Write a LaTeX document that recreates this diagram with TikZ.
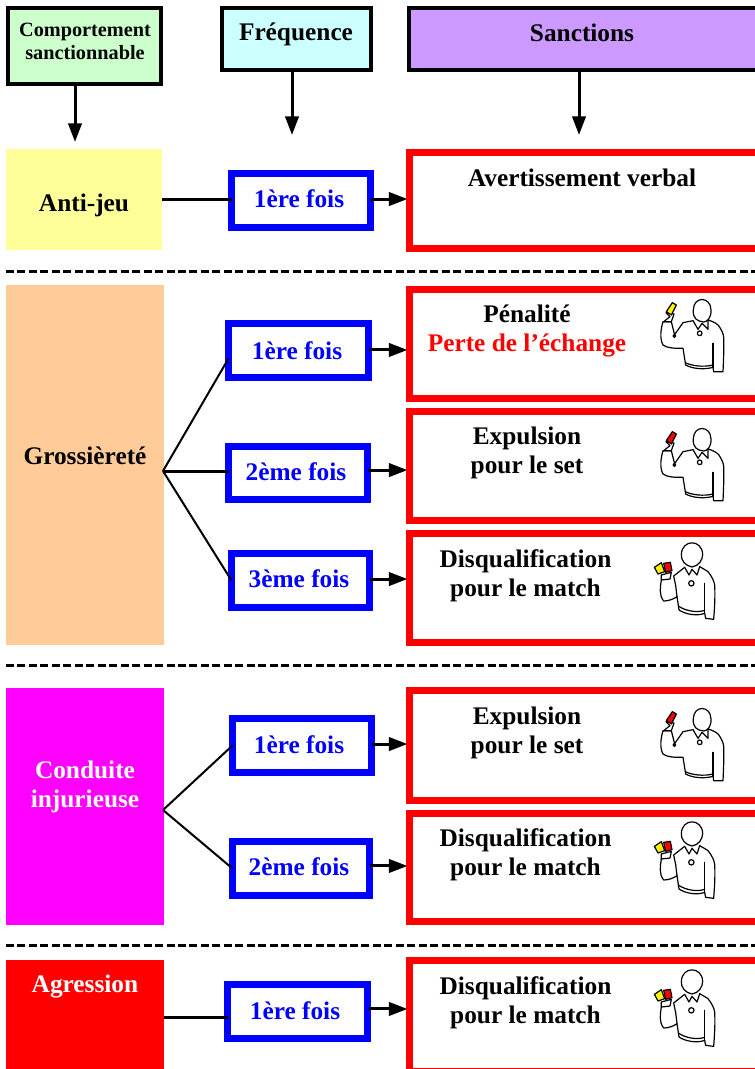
\documentclass[tikz,border=0pt]{standalone}
\usepackage{fontspec}
\setmainfont{Liberation Serif}
\usetikzlibrary{arrows.meta}
\definecolor{cGreen}{HTML}{CCFFCC}
\definecolor{cCyan}{HTML}{CCFFFF}
\definecolor{cPurple}{HTML}{CC99FF}
\definecolor{cYellow}{HTML}{FFFF99}
\definecolor{cOrange}{HTML}{FFCC99}
\definecolor{cMagenta}{HTML}{FF00FF}
\definecolor{cRed}{HTML}{FF0000}
\definecolor{cBlue}{HTML}{0000FF}
\tikzset{
  base/.style={inner sep=0pt,outer sep=0pt,rectangle},
  big/.style={font=\fontsize{19}{21.75}\selectfont\bfseries,align=center,inner sep=0pt},
  small/.style={font=\fontsize{15.2}{17.25}\selectfont\bfseries,align=center,inner sep=0pt},
  headbox/.style={base,draw=black,line width=3pt},
  catbox/.style={base},
  freqbox/.style={base,draw=cBlue,fill=white,line width=5.25pt},
  freqtext/.style={big,text=cBlue},
  sancbox/.style={base},
  sancline/.style={draw=cRed,line width=5.25pt,line join=miter},
  topline/.style={draw=black,line width=3pt,line join=miter},
  conn/.style={draw=black,line width=2.25pt},
  diag/.style={draw=black,line width=1.5pt},
  arr/.style={conn,-{Triangle[length=14pt,width=10pt]}},
  sep/.style={draw=black,line width=2.25pt,dash pattern=on 6pt off 2.6pt},
  ink/.style={draw=black,line width=0.9pt,line cap=round,line join=round,fill=none},
  pics/refA/.style={code={
    \begin{scope}[x=0.25pt,y=-0.25pt]
      \draw[ink] (-26,0) .. controls (-26,-42) and (26,-42) .. (27,0) .. controls (28,25) and (15,35) .. (5,36) .. controls (-15,34) and (-28,25) .. (-26,0);
      \draw[ink] (-27,32) -- (-12,58) -- (0,40) -- (18,58) -- (18,30);
      \draw[ink] (-27,32) -- (-57,38) -- (-85,78);
      \draw[ink] (18,30) .. controls (35,35) and (50,42) .. (55,55) .. controls (64,70) and (66,80) .. (65,90) .. controls (66,130) and (64,160) .. (63,185) -- (35,185) -- (33,172);
      \draw[ink] (33,100) -- (33,172);
      \draw[ink] (-92,35) -- (-117,35) .. controls (-123,55) and (-128,85) .. (-117,105) .. controls (-105,115) and (-80,115) .. (-57,115) -- (-49,165) .. controls (-30,176) and (5,180) .. (33,172);
      \draw[ink] (-50,158) .. controls (-30,168) and (5,172) .. (33,165);
      \draw[ink] (-92,35) -- (-82,75);
      \draw[ink] (-83,78) circle (4);
      \draw[ink] (-7,70) circle (7);
      \draw[ink] (-108,8) -- (-96,20) -- (-115,35) -- (-92,35) -- (-84,12) -- cycle;
      \filldraw[ink,fill=\cardA] (-107,5) -- (-89,-22) -- (-77,-15) -- (-92,15) -- cycle;
    \end{scope}}},
  pics/refB/.style={code={
    \begin{scope}[x=0.25pt,y=-0.25pt]
      \draw[ink] (-32,-2) .. controls (-30,-48) and (30,-48) .. (32,-2) .. controls (32,15) and (20,33) .. (0,36) .. controls (-20,33) and (-34,15) .. (-32,-2);
      \draw[ink] (-22,37) -- (-9,60) -- (0,43) -- (15,60) -- (23,35);
      \draw[ink] (-22,37) -- (-55,63) -- (-49,92);
      \draw[ink] (23,35) .. controls (35,42) and (44,47) .. (48,50) .. controls (60,65) and (66,78) .. (68,90) .. controls (70,130) and (67,165) .. (65,193) -- (41,190) -- (38,175);
      \draw[ink] (38,85) -- (38,175);
      \draw[ink] (-92,60) -- (-92,75) .. controls (-95,95) and (-100,120) .. (-85,138) .. controls (-70,138) and (-55,132) .. (-45,125) -- (-39,165) .. controls (-20,178) and (15,184) .. (38,175);
      \draw[ink] (-41,153) .. controls (-20,168) and (15,174) .. (38,166);
      \draw[ink] (-49,92) -- (-45,125);
      \draw[ink] (-92,60) -- (-62,52) -- (-66,72) -- (-92,75);
      \draw[ink] (-2,85) circle (8);
      \filldraw[ink,fill=cRed] (-85,25) -- (-65,22) -- (-60,47) -- (-79,52) -- cycle;
      \filldraw[ink,fill=yellow] (-113,37) -- (-92,23) -- (-82,50) -- (-102,57) -- cycle;
    \end{scope}}},
}
\newcommand{\cardA}{yellow}
% freq box: name, outer left, outer top, outer right, outer bottom
\newcommand{\fq}[5]{\node[freqbox,minimum width={(#4-#2-7)*0.75pt},minimum height={(#5-#3-7)*0.75pt}] (#1) at ({(#2+#4)/2},{(#3+#5)/2}) {};}
% sanction box: name, outer top, outer bottom
\newcommand{\sanc}[3]{\node[sancbox,minimum width={345.5*0.75pt},minimum height={(#3-#2-7)*0.75pt}] (#1) at (582.25,{(#2+#3)/2}) {};}
\newcommand{\sancdraw}[1]{\draw[sancline] (#1.north east) -- (#1.north west) -- (#1.south west) -- (#1.south east);}
\begin{document}
\begin{tikzpicture}[x=0.75pt,y=-0.75pt]
\useasboundingbox (0,0) rectangle (755,1069);
% header boxes
\node[headbox,fill=cGreen,minimum width={153*0.75pt},minimum height={76*0.75pt}] (hc) at (84.5,46) {};
\node[headbox,fill=cCyan,minimum width={149*0.75pt},minimum height={62*0.75pt}] (hf) at (296.5,39) {};
\node[base,minimum width={346.5*0.75pt},minimum height={62*0.75pt}] (hs) at (581.75,39) {};
\fill[cPurple] (hs.north west) rectangle (hs.south east);
\draw[topline] (hs.north east) -- (hs.north west) -- (hs.south west) -- (hs.south east);
\node[small] (thc) at (85,41.5) {Comportement\\sanctionnable};
\node[big] (thf) at (296,34) {Fréquence};
\node[big] (ths) at (582,33) {Sanctions};
% top arrows
\coordinate (ta1) at (75,142);
\coordinate (ta2) at (292,135);
\coordinate (ta3) at (579,135);
\draw[arr] (hc.south -| ta1) -- (ta1);
\draw[arr] (hf.south -| ta2) -- (ta2);
\draw[arr] (hs.south -| ta3) -- (ta3);
% category boxes
\node[catbox,fill=cYellow,minimum width={156*0.75pt},minimum height={101*0.75pt}] (c1) at (84,199.5) {};
\node[catbox,fill=cOrange,minimum width={158*0.75pt},minimum height={360*0.75pt}] (c2) at (85,465) {};
\node[catbox,fill=cMagenta,minimum width={158*0.75pt},minimum height={237*0.75pt}] (c3) at (85,806.5) {};
\node[catbox,fill=cRed,minimum width={158*0.75pt},minimum height={109*0.75pt}] (c4) at (85,1014.5) {};
\node[big] (tc1) at (84,205) {Anti-jeu};
\node[big] (tc2) at (85,455.5) {Grossièreté};
\node[big,text=white] (tc3) at (85,787) {Conduite\\injurieuse};
\node[big,text=white] (tc4) at (85,986) {Agression};
% separators
\coordinate (s1a) at (6,271.5); \coordinate (s1b) at (755,271.5);
\coordinate (s2a) at (6,665); \coordinate (s2b) at (755,665);
\coordinate (s3a) at (6,945); \coordinate (s3b) at (755,945);
\draw[sep] (s1a) -- (s1b);
\draw[sep] (s2a) -- (s2b);
\draw[sep] (s3a) -- (s3b);
% hubs
\coordinate (hub2) at (163,471);
\coordinate (hub3) at (163,810);
% frequency boxes
\fq{f1}{228}{170}{374}{231}
\fq{f2}{225}{320}{372}{381}
\fq{f3}{225}{443}{371}{503}
\fq{f4}{228}{550}{373}{611}
\fq{f5}{229}{715}{375}{776}
\fq{f6}{229}{838}{373}{899}
\fq{f7}{224}{981}{371}{1042}
% sanction boxes
\sanc{r1}{149}{252}
\sanc{r2}{286}{402}
\sanc{r3}{408}{524}
\sanc{r4}{530}{646}
\sanc{r5}{687}{804}
\sanc{r6}{810}{925}
\sanc{r7}{957}{1074.7}
% connectors
\draw[conn] ([yshift=1.1pt]c1.east |- f1.west) -- ([yshift=1.1pt]f1.west);
\draw[diag] (hub2) -- ([yshift=-6pt]f2.west);
\draw[conn] (hub2) -- (hub2 -| f3.west);
\draw[diag] (hub2) -- (f4.west);
\draw[diag] (hub3) -- (f5.west);
\draw[diag] (hub3) -- (f6.west);
\coordinate (j7) at (c4.east |- 0,1017);
\draw[conn] (j7) -- (j7 -| f7.west);
\foreach \a/\b/\dy in {f1/r1/1.1,f2/r2/0.4,f3/r3/2.2,f4/r4/1.1,f5/r5/1.1,f6/r6/1.9,f7/r7/1.9}{
  \draw[arr,shorten >=1.5pt] ([yshift=\dy pt]\a.east) -- ([yshift=\dy pt]\a.east -| \b.west);
}
\sancdraw{r1}\sancdraw{r2}\sancdraw{r3}\sancdraw{r4}\sancdraw{r5}\sancdraw{r6}\sancdraw{r7}
% frequency labels
\node[freqtext] (t1) at (299,199) {1ère fois};
\node[freqtext] (t2) at (297,351) {1ère fois};
\node[freqtext] (t3) at (296,472) {2ème fois};
\node[freqtext] (t4) at (299,579) {3ème fois};
\node[freqtext] (t5) at (299,745) {1ère fois};
\node[freqtext] (t6) at (299,867) {2ème fois};
\node[freqtext] (t7) at (295,1011) {1ère fois};
% sanction labels
\node[big] (l1) at (582,178) {Avertissement verbal};
\node[big] (l2) at (527,331) {Pénalité\\\textcolor{cRed}{Perte de l’échange}};
\node[big] (l3) at (527,453) {Expulsion\\pour le set};
\node[big] (l4) at (525.5,575.5) {Disqualification\\pour le match};
\node[big] (l5) at (527,733) {Expulsion\\pour le set};
\node[big] (l6) at (525.5,854.5) {Disqualification\\pour le match};
\node[big] (l7) at (525.5,1002.5) {Disqualification\\pour le match};
% referees
\pic at (702,310) {refA};
\renewcommand{\cardA}{cRed}
\pic at (702,439) {refA};
\pic at (702,719) {refA};
\pic at (692,555) {refB};
\pic at (692,834) {refB};
\pic at (692,982) {refB};
\end{tikzpicture}
\end{document}
